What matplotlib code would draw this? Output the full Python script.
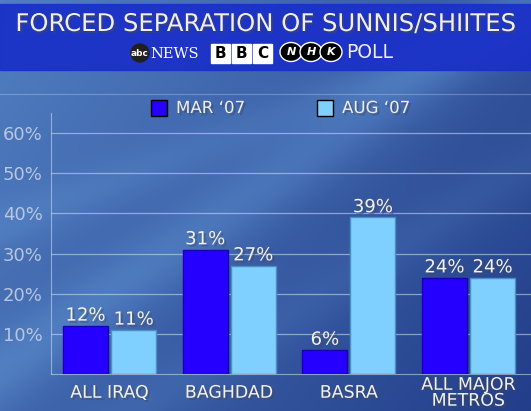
import numpy as np
import matplotlib.pyplot as plt
from matplotlib.patches import Rectangle, Ellipse, Circle
import matplotlib.patheffects as pe

categories = ['ALL IRAQ', 'BAGHDAD', 'BASRA', 'ALL MAJOR\nMETROS']
mar07 = [12, 31, 6, 24]
aug07 = [11, 27, 39, 24]
series_names = ["MAR \u201807", "AUG \u201807"]
yticks = [10, 20, 30, 40, 50, 60]

W, H = 531, 411
fig = plt.figure(figsize=(W / 100, H / 100), dpi=100)

# background: blue gradient with soft diagonal streaks
bg = fig.add_axes([0, 0, 1, 1])
yy, xx = np.mgrid[0:H, 0:W] / np.array([H, W])[:, None, None]
base = 0.6 - 0.35 * xx - 0.2 * yy
streak = 0.18 * np.exp(-((yy - 0.9 + 0.9 * xx) ** 2) / 0.01) \
    + 0.10 * np.exp(-((yy - 0.55 + 0.5 * xx) ** 2) / 0.004) \
    + 0.08 * np.exp(-((yy - 1.2 + 0.8 * xx) ** 2) / 0.006)
t = np.clip(base + streak, 0, 1)
dark = np.array([0.12, 0.22, 0.52])
light = np.array([0.45, 0.68, 0.92])
img = dark + (light - dark) * t[..., None]
bg.imshow(img, extent=[0, W, H, 0], aspect='auto')
bg.set_xlim(0, W)
bg.set_ylim(H, 0)
bg.axis('off')

# title banner
bg.add_patch(Rectangle((0, 4), W, 66, color='#1a30c8', alpha=0.93, zorder=2))
shadow = [pe.withSimplePatchShadow(offset=(1.5, -1.5), alpha=0.5)]
bg.text(W / 2, 24, 'FORCED SEPARATION OF SUNNIS/SHIITES', color='#f0eef0',
        fontsize=17.5, ha='center', va='center', zorder=3,
        family='DejaVu Sans', path_effects=shadow)

# logos line
bg.add_patch(Circle((140, 53), 9, color='#202020', zorder=3))
bg.text(140, 53, 'abc', color='white', fontsize=6.5, ha='center', va='center',
        zorder=4, weight='bold')
bg.text(150, 54, 'NEWS', color='white', fontsize=10.5, ha='left', va='center',
        family='DejaVu Serif', zorder=4)
for i, ch in enumerate('BBC'):
    x0 = 211 + i * 21
    bg.add_patch(Rectangle((x0, 44), 19, 19, color='white', zorder=3))
    bg.text(x0 + 9.5, 54, ch, color='black', fontsize=11, weight='bold',
            ha='center', va='center', zorder=4)
for i, ch in enumerate('NHK'):
    cx = 291 + i * 20
    bg.add_patch(Ellipse((cx, 52), 22, 19, facecolor='black', edgecolor='white',
                         lw=1, zorder=3))
    bg.text(cx, 52, ch, color='white', fontsize=8, weight='bold', style='italic',
            ha='center', va='center', zorder=4)
bg.text(346, 52, 'POLL', color='#f0eef0', fontsize=13.5, ha='left', va='center',
        zorder=4)

bg.plot([0, W], [94, 94], color='white', alpha=0.25, lw=0.8)

# legend
colors = ['#2600ff', '#7fcfff']
for (x0, name, c) in [(151, series_names[0], colors[0]), (317, series_names[1], colors[1])]:
    bg.add_patch(Rectangle((x0, 100), 16, 16, facecolor=c, edgecolor='black',
                           lw=1, zorder=3))
    bg.text(x0 + 25, 108, name, color='#eeeef2', fontsize=12, ha='left',
            va='center', zorder=3, path_effects=shadow)

# chart
ax = fig.add_axes([51 / W, 1 - 374 / H, (W - 51) / W, (374 - 113) / H])
ax.patch.set_alpha(0)
x = np.arange(len(categories))
bw = 0.376
b1 = ax.bar(x - bw / 2 - 0.013, mar07, bw, color=colors[0], edgecolor='#1a00b0',
            lw=1, zorder=3)
b2 = ax.bar(x + bw / 2 + 0.013, aug07, bw, color=colors[1], edgecolor='#4a90c0',
            lw=1, zorder=3)
for bars in (b1, b2):
    for r in bars:
        ax.text(r.get_x() + r.get_width() / 2, r.get_height() + 0.3,
                f'{int(r.get_height())}%', ha='center', va='bottom',
                color='#f2f2f2', fontsize=13, zorder=4, path_effects=shadow)

ax.set_xlim(-0.489, 3.522)
ax.set_ylim(0, 65)
ax.set_yticks(yticks)
ax.set_yticklabels([f'{v}%' for v in yticks], color='#b8c6e0', fontsize=13)
ax.yaxis.grid(True, color='#c8d8f0', alpha=0.6, lw=0.9)
ax.set_axisbelow(True)
ax.tick_params(axis='y', length=0, pad=6)
ax.tick_params(axis='x', length=0, pad=13.5)
ax.set_xticks(x)
ax.set_xticklabels(categories, color='#f2f2f2', fontsize=12.5, linespacing=0.85,
                   va='center', path_effects=shadow)
for s in ['top', 'right']:
    ax.spines[s].set_visible(False)
for s in ['left', 'bottom']:
    ax.spines[s].set_color('#c8d8f0')
    ax.spines[s].set_alpha(0.6)

fig.savefig('out.png', dpi=100)
